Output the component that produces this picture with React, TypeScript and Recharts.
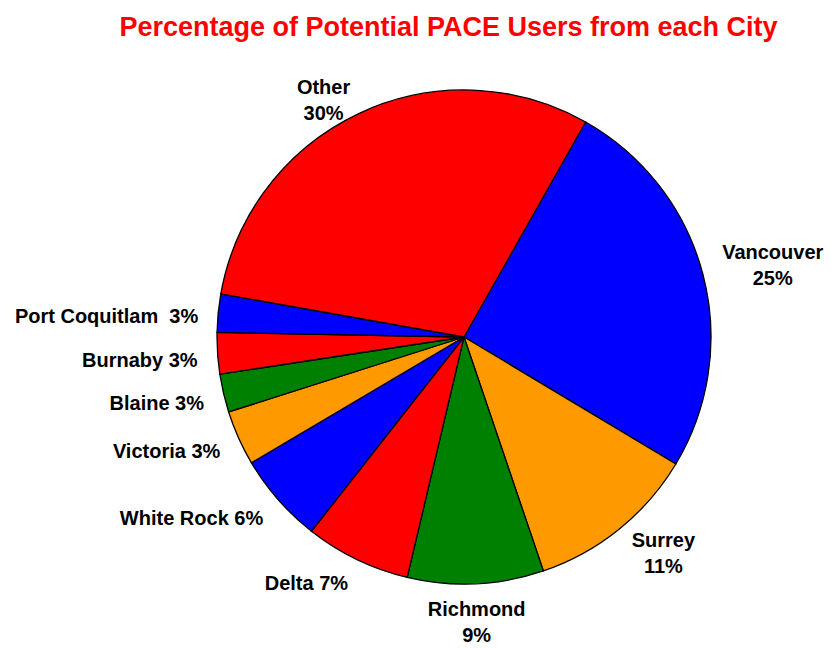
import { Cell, Pie, PieChart } from "recharts";

const cities = [
  "Vancouver",
  "Surrey",
  "Richmond",
  "Delta",
  "White Rock",
  "Victoria",
  "Blaine",
  "Burnaby",
  "Port Coquitlam",
  "Other",
];
const shares = [25.4, 11.2, 8.9, 6.9, 5.9, 3.6, 2.5, 2.7, 2.5, 30.4];
const shownPercents = ["25%", "11%", "9%", "7%", "6%", "3%", "3%", "3%", "3%", "30%"];
// two-line labels put the percent under the name
const stackedLabel = [true, true, true, false, false, false, false, false, false, true];
const sliceColors = [
  "#0000FF",
  "#FF9900",
  "#008000",
  "#FF0000",
  "#0000FF",
  "#FF9900",
  "#008000",
  "#FF0000",
  "#0000FF",
  "#FF0000",
];

const chartData = cities.map((city, i) => ({ city, share: shares[i] }));

const FONT = "'Liberation Sans', Arial, sans-serif";
const LABEL_SIZE = 20;
const LINE_H = 26;
const RADIAN = Math.PI / 180;

let ctx: CanvasRenderingContext2D | null = null;
function textWidth(s: string) {
  if (!ctx) ctx = document.createElement("canvas").getContext("2d");
  if (!ctx) return s.length * LABEL_SIZE * 0.55;
  ctx.font = `bold ${LABEL_SIZE}px ${FONT}`;
  return ctx.measureText(s).width;
}

function labelLines(i: number) {
  if (stackedLabel[i]) return [cities[i], shownPercents[i]];
  const gap = cities[i] === "Port Coquitlam" ? "  " : " ";
  return [cities[i] + gap + shownPercents[i]];
}

function renderLabel(props: any) {
  const { cx, cy, midAngle, outerRadius, index } = props;
  const cos = Math.cos(-midAngle * RADIAN);
  const sin = Math.sin(-midAngle * RADIAN);
  const r = outerRadius + 20;
  const px = cx + r * cos;
  const py = cy + r * sin;
  const lines = labelLines(index);
  const w = Math.max(...lines.map(textWidth));
  const h = LINE_H * lines.length;

  let left: number;
  let top: number;
  if (cos > 0.3) {
    left = px;
    top = py - h / 2 + (sin > 0 ? 8 : -4);
  } else if (cos < -0.3) {
    left = px - w;
    top = py - h / 2 + 5;
  } else {
    left = px - w / 2;
    top = sin > 0 ? py - 8 : py - h;
  }

  return (
    <text
      key={`lbl-${index}`}
      fontFamily={FONT}
      fontSize={LABEL_SIZE}
      fontWeight="bold"
      fill="#000"
      textAnchor="middle"
      style={{ whiteSpace: "pre" }}
    >
      {lines.map((line, j) => (
        <tspan
          key={j}
          x={left + w / 2}
          y={top + LINE_H * (j + 0.5)}
          dominantBaseline="central"
        >
          {line}
        </tspan>
      ))}
    </text>
  );
}

export default function App() {
  return (
    <div
      style={{
        position: "absolute",
        left: 0,
        top: 0,
        width: 831,
        height: 648,
        background: "#fff",
      }}
    >
      <div
        style={{
          position: "absolute",
          left: 0,
          top: 10,
          width: 897,
          textAlign: "center",
          fontFamily: FONT,
          fontWeight: "bold",
          fontSize: 27,
          color: "#FF0000",
          lineHeight: "34px",
        }}
      >
        Percentage of Potential PACE Users from each City
      </div>
      <PieChart
        width={831}
        height={648}
        margin={{ top: 0, right: 0, bottom: 0, left: 0 }}
        style={{ position: "absolute", left: 0, top: 0 }}
      >
        <Pie
          data={chartData}
          dataKey="share"
          nameKey="city"
          cx={464}
          cy={337}
          outerRadius={247}
          startAngle={60.5}
          endAngle={-299.5}
          stroke="#000"
          strokeWidth={1.3}
          label={renderLabel}
          labelLine={false}
          isAnimationActive={false}
        >
          {chartData.map((d, i) => (
            <Cell key={d.city} fill={sliceColors[i]} />
          ))}
        </Pie>
      </PieChart>
    </div>
  );
}
